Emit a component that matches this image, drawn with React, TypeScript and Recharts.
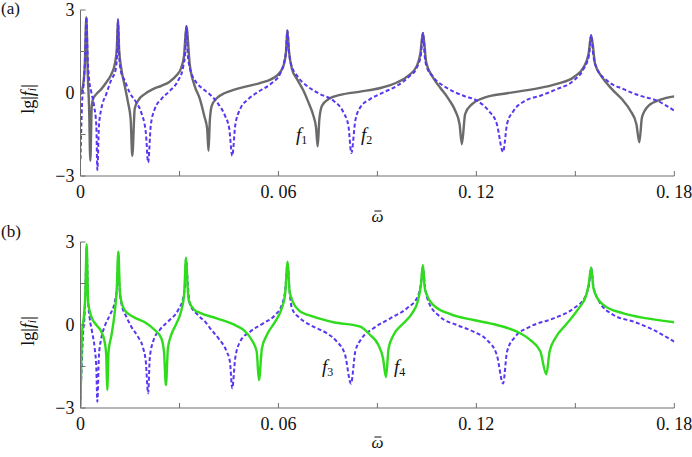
import { LineChart, Line, XAxis, YAxis } from 'recharts';

// omega-bar axis
const omegaTicks = [0, 0.03, 0.06, 0.09, 0.12, 0.15, 0.18];
const omegaTickLabels = ['0', '', '0. 06', '', '0. 12', '', '0. 18'];
// lg|f| axis
const lgTicks = [-3, -1.5, 0, 1.5, 3];
const lgTickLabels = ['\u22123', '', '0', '', '3'];

// f1 (grey, panel a)
const f1Omega = [0, 0.0008, 0.0013, 0.00177, 0.0022, 0.0026, 0.00298, 0.0034, 0.0038, 0.0048, 0.0063, 0.0078, 0.0094, 0.0104, 0.011, 0.01137, 0.0117, 0.01238, 0.0134, 0.0144, 0.0152, 0.0157, 0.01643, 0.01744, 0.01946, 0.02199, 0.0245, 0.02705, 0.02906, 0.03058, 0.03139, 0.0321, 0.0331, 0.0346, 0.0362, 0.0375, 0.0384, 0.0388, 0.0392, 0.0398, 0.0413, 0.0438, 0.0464, 0.0504, 0.0544, 0.058, 0.0605, 0.0617, 0.0623, 0.0627, 0.0632, 0.0641, 0.0656, 0.0676, 0.0691, 0.0706, 0.0714, 0.0719, 0.0724, 0.0732, 0.0752, 0.0787, 0.0848, 0.0909, 0.0959, 0.0994, 0.102, 0.103, 0.1038, 0.1048, 0.1065, 0.109, 0.1116, 0.1136, 0.1149, 0.1156, 0.1166, 0.1187, 0.1222, 0.1293, 0.1373, 0.1444, 0.1495, 0.1525, 0.154, 0.1548, 0.156, 0.1581, 0.1611, 0.1641, 0.1667, 0.1685, 0.1694, 0.1702, 0.1722, 0.1758, 0.18];
const f1Lg = [-0.05, 0.3, 1.0, 2.74, 0.7, -0.5, -2.45, -0.5, -0.22, -0.04, 0.14, 0.38, 0.69, 1.05, 1.6, 2.66, 1.6, 0.87, 0.26, -0.34, -0.94, -2.27, -0.58, -0.28, -0.04, 0.14, 0.26, 0.41, 0.63, 0.93, 1.35, 2.41, 1.05, 0.26, -0.22, -0.82, -1.3, -2.09, -1.0, -0.46, -0.19, 0, 0.11, 0.24, 0.36, 0.51, 0.75, 1.05, 1.5, 2.26, 1.5, 0.87, 0.51, 0.08, -0.34, -0.82, -1.25, -1.93, -0.95, -0.46, -0.22, -0.07, 0.05, 0.18, 0.38, 0.63, 0.99, 1.41, 2.17, 1.11, 0.63, 0.2, -0.22, -0.64, -1.12, -1.85, -0.76, -0.4, -0.18, -0.01, 0.14, 0.33, 0.57, 0.93, 1.41, 2.09, 1.05, 0.57, 0.14, -0.22, -0.64, -1.12, -1.78, -0.88, -0.46, -0.24, -0.12];

// f2 (blue dashed, panel a)
const f2Omega = [0, 0.00045, 0.00106, 0.0014, 0.00177, 0.0022, 0.0026, 0.0033, 0.0041, 0.0048, 0.0051, 0.0056, 0.0063, 0.0078, 0.0094, 0.0106, 0.0111, 0.01137, 0.0117, 0.0122, 0.0134, 0.0149, 0.0169, 0.0184, 0.0198, 0.0205, 0.0213, 0.0225, 0.0245, 0.0271, 0.0296, 0.0311, 0.0317, 0.0321, 0.0325, 0.0331, 0.0351, 0.0368, 0.0393, 0.0418, 0.0438, 0.0451, 0.046, 0.0469, 0.0484, 0.0509, 0.0544, 0.058, 0.0605, 0.0617, 0.0623, 0.0627, 0.0632, 0.0638, 0.0656, 0.0686, 0.0726, 0.0767, 0.0797, 0.0812, 0.0821, 0.0833, 0.0848, 0.0878, 0.0918, 0.0959, 0.0994, 0.102, 0.1032, 0.1038, 0.1043, 0.1048, 0.107, 0.1111, 0.1161, 0.1202, 0.1237, 0.1262, 0.1281, 0.1293, 0.1313, 0.1348, 0.1394, 0.1444, 0.1495, 0.1525, 0.1542, 0.1548, 0.1554, 0.1566, 0.1596, 0.1646, 0.1697, 0.1748, 0.18];
const f2Lg = [-2.39, -0.46, 0.5, 1.3, 2.74, 1.2, 0.5, 0.02, -0.46, -1.18, -2.78, -1.18, -0.58, -0.04, 0.5, 0.81, 1.4, 2.66, 1.4, 0.81, 0.45, 0.02, -0.34, -0.7, -1.43, -2.51, -1.18, -0.58, -0.22, 0.08, 0.45, 0.93, 1.4, 2.41, 1.4, 0.93, 0.38, 0.18, -0.06, -0.4, -0.82, -1.3, -2.27, -1.18, -0.58, -0.22, 0.08, 0.36, 0.69, 1.11, 1.5, 2.26, 1.5, 1.05, 0.63, 0.26, -0.04, -0.28, -0.7, -1.18, -2.17, -1.0, -0.52, -0.22, 0.02, 0.26, 0.57, 0.93, 1.4, 2.17, 1.4, 0.99, 0.57, 0.18, -0.1, -0.28, -0.64, -1.12, -2.13, -1.12, -0.64, -0.28, -0.1, 0.14, 0.45, 0.87, 1.4, 2.09, 1.4, 0.87, 0.45, 0.14, -0.1, -0.28, -0.64];

// f3 (blue dashed, panel b)
const f3Omega = [0, 0.00076, 0.00127, 0.0015, 0.00187, 0.0023, 0.0028, 0.0035, 0.0043, 0.0048, 0.0051, 0.0056, 0.0063, 0.0073, 0.0089, 0.0104, 0.0111, 0.01147, 0.0118, 0.0124, 0.0139, 0.0154, 0.0174, 0.019, 0.0198, 0.0205, 0.021, 0.022, 0.024, 0.0265, 0.0296, 0.0311, 0.0317, 0.032, 0.0325, 0.0331, 0.0356, 0.0382, 0.0393, 0.0418, 0.0443, 0.0453, 0.046, 0.0469, 0.0484, 0.0514, 0.0554, 0.059, 0.061, 0.062, 0.0628, 0.0634, 0.0641, 0.0666, 0.0706, 0.0747, 0.0777, 0.0802, 0.082, 0.0833, 0.0853, 0.0888, 0.0939, 0.0989, 0.1022, 0.1032, 0.1038, 0.1044, 0.1055, 0.109, 0.1141, 0.1191, 0.1232, 0.1262, 0.1281, 0.1293, 0.1318, 0.1363, 0.1434, 0.1495, 0.153, 0.1542, 0.1548, 0.1555, 0.157, 0.1616, 0.1677, 0.1737, 0.18];
const f3Lg = [-2.7, -0.36, 0.48, 1.3, 2.8, 0.9, 0.24, -0.24, -0.84, -1.57, -2.77, -1.08, -0.48, -0.06, 0.36, 0.84, 1.4, 2.6, 1.4, 0.78, 0.3, -0.06, -0.42, -0.84, -1.33, -2.47, -1.2, -0.6, -0.18, 0.12, 0.54, 0.96, 1.5, 2.4, 1.5, 0.78, 0.36, 0.06, -0.12, -0.48, -0.96, -1.33, -2.29, -1.2, -0.6, -0.24, 0.06, 0.36, 0.72, 1.2, 2.2, 1.2, 0.6, 0.24, -0.06, -0.3, -0.6, -1.08, -2.12, -0.96, -0.48, -0.12, 0.24, 0.6, 1.02, 1.5, 2.1, 1.4, 0.84, 0.3, 0, -0.24, -0.54, -1.08, -2.11, -0.96, -0.42, -0.06, 0.24, 0.6, 1.02, 1.5, 2.05, 1.4, 0.9, 0.36, 0.12, -0.18, -0.6];

// f4 (green, panel b)
const f4Omega = [0, 0.00045, 0.00106, 0.00146, 0.00187, 0.0023, 0.0033, 0.0048, 0.0063, 0.0073, 0.0078, 0.0081, 0.0085, 0.0094, 0.0104, 0.011, 0.01147, 0.0119, 0.0122, 0.0134, 0.0159, 0.0195, 0.0225, 0.0245, 0.0253, 0.0259, 0.0265, 0.0275, 0.0291, 0.0306, 0.0314, 0.032, 0.0325, 0.0328, 0.0346, 0.0362, 0.0413, 0.0464, 0.0494, 0.0519, 0.0534, 0.0541, 0.055, 0.0565, 0.059, 0.061, 0.062, 0.0628, 0.0633, 0.0638, 0.0661, 0.0706, 0.0767, 0.0848, 0.0878, 0.0903, 0.0917, 0.0926, 0.0934, 0.0949, 0.0979, 0.1005, 0.1022, 0.1032, 0.1038, 0.1043, 0.1048, 0.107, 0.1121, 0.1191, 0.1262, 0.1323, 0.1363, 0.1394, 0.1412, 0.1422, 0.1439, 0.1475, 0.151, 0.1533, 0.1541, 0.1548, 0.1554, 0.156, 0.1586, 0.1646, 0.1717, 0.18];
const f4Lg = [-2.95, -0.36, 0.36, 1.08, 2.92, 0.84, 0.3, 0, -0.24, -0.6, -1.08, -2.35, -0.96, -0.36, 0.48, 1.33, 2.65, 1.3, 0.96, 0.54, 0.3, 0.1, -0.18, -0.48, -0.96, -2.17, -0.84, -0.36, 0.06, 0.54, 1.08, 2.43, 1.3, 0.9, 0.54, 0.44, 0.24, 0.02, -0.18, -0.54, -0.96, -1.99, -0.84, -0.36, 0.12, 0.6, 1.08, 2.29, 1.3, 1.02, 0.54, 0.3, 0.1, -0.06, -0.36, -0.72, -1.2, -1.88, -0.84, -0.36, 0.06, 0.42, 0.84, 1.45, 2.17, 1.4, 1.14, 0.72, 0.39, 0.18, 0, -0.24, -0.54, -0.96, -1.78, -0.96, -0.48, 0.06, 0.6, 1.08, 1.51, 2.08, 1.4, 1.14, 0.72, 0.42, 0.24, 0.1];

const toPoints = (xs: number[], ys: number[]) => xs.map((w, i) => ({ w, v: ys[i] }));

const FONT = 'Liberation Serif';
const AXIS = '#6e6e6e';
const W = 692;
const H = 226;
const MARGIN = { top: 10, right: 17.7, bottom: 0, left: 0 };

const XTick = (props: any) => {
  const { x, y, payload } = props;
  const label = omegaTickLabels[omegaTicks.indexOf(payload.value)];
  if (!label) return <g />;
  return (
    <text x={x} y={y} dy="0.71em" textAnchor="middle" fontSize={18} style={{ fontFamily: FONT }} fill="#111">
      {label}
    </text>
  );
};

const YTick = (props: any) => {
  const { x, y, payload } = props;
  const label = lgTickLabels[lgTicks.indexOf(payload.value)];
  if (!label) return <g />;
  return (
    <text x={x} y={y} dy="0.35em" textAnchor="end" fontSize={18} style={{ fontFamily: FONT }} fill="#111">
      {label}
    </text>
  );
};

const NoTick = () => <g />;

const OmegaLabel = ({ viewBox, gap }: any) => {
  const cx = viewBox.x + viewBox.width / 2;
  const base = viewBox.y + gap;
  return (
    <g>
      <text x={cx} y={base} textAnchor="middle" fontSize={17} fontStyle="italic" style={{ fontFamily: FONT }} fill="#111">
        ω
      </text>
      <line x1={cx - 3} x2={cx + 4} y1={base - 11} y2={base - 11} stroke="#111" strokeWidth={1} />
    </g>
  );
};

const LgLabel = ({ viewBox }: any) => {
  const cx = 28;
  const cy = viewBox.y + viewBox.height / 2 + 6;
  return (
    <text x={cx} y={cy} transform={`rotate(-90 ${cx} ${cy})`} textAnchor="middle" dominantBaseline="central" fontSize={18} style={{ fontFamily: FONT }} fill="#111">
      lg|<tspan fontStyle="italic">f</tspan>
      <tspan fontStyle="italic" fontSize={12} dy={4}>i</tspan>
      <tspan dy={-4}>|</tspan>
    </text>
  );
};

function Panel({ children, labelGap }: { children: React.ReactNode; labelGap: number }) {
  return (
    <LineChart width={W} height={H} margin={MARGIN}>
      <XAxis dataKey="w" type="number" domain={[0, 0.18]} ticks={omegaTicks} allowDataOverflow
        height={50} tickSize={-5} tickMargin={14} tick={XTick} stroke={AXIS} tickLine={{ stroke: AXIS }}
        label={<OmegaLabel gap={labelGap} />} />
      <XAxis xAxisId="top" orientation="top" dataKey="w" type="number" domain={[0, 0.18]} ticks={omegaTicks}
        height={0} tickSize={-5} tick={NoTick} stroke={AXIS} tickLine={{ stroke: AXIS }} />
      <YAxis type="number" domain={[-3, 3]} ticks={lgTicks} allowDataOverflow width={80.5}
        tickSize={-5} tickMargin={11} tick={YTick} stroke={AXIS} tickLine={{ stroke: AXIS }}
        label={<LgLabel />} />
      <YAxis yAxisId="right" orientation="right" type="number" domain={[-3, 3]} ticks={lgTicks}
        width={0} tickSize={-5} tick={NoTick} stroke={AXIS} tickLine={{ stroke: AXIS }} />
      {children}
    </LineChart>
  );
}

const Sub = ({ x, y, n }: { x: number; y: number; n: string }) => (
  <text x={x} y={y} fontSize={19} style={{ fontFamily: FONT }} fill="#111">
    <tspan fontStyle="italic">f</tspan>
    <tspan fontSize={12} dy={3}>{n}</tspan>
  </text>
);

export default function App() {
  return (
    <div style={{ position: 'absolute', left: 0, top: 0, width: 692, height: 457, background: '#fff' }}>
      <div style={{ position: 'absolute', left: 0, top: 0 }}>
        <Panel labelGap={46}>
          <Line data={toPoints(f1Omega, f1Lg)} dataKey="v" type="monotone" stroke="#6b6b6b" strokeWidth={2.4}
            dot={false} isAnimationActive={false} />
          <Line data={toPoints(f2Omega, f2Lg)} dataKey="v" type="monotone" stroke="#5a35f2" strokeWidth={2}
            strokeDasharray="4 2.5" dot={false} isAnimationActive={false} />
        </Panel>
      </div>
      <div style={{ position: 'absolute', left: 0, top: 231.7 }}>
        <Panel labelGap={40}>
          <Line data={toPoints(f3Omega, f3Lg)} dataKey="v" type="monotone" stroke="#5a35f2" strokeWidth={2}
            strokeDasharray="4 2.5" dot={false} isAnimationActive={false} />
          <Line data={toPoints(f4Omega, f4Lg)} dataKey="v" type="monotone" stroke="#2fdc1c" strokeWidth={2.4}
            dot={false} isAnimationActive={false} />
        </Panel>
      </div>
      <svg width={692} height={457} style={{ position: 'absolute', left: 0, top: 0, pointerEvents: 'none' }}>
        <text x={1} y={14} fontSize={17} style={{ fontFamily: FONT }} fill="#111">(a)</text>
        <text x={1} y={237} fontSize={17} style={{ fontFamily: FONT }} fill="#111">(b)</text>
        <Sub x={296} y={141} n="1" />
        <Sub x={361} y={141} n="2" />
        <Sub x={322} y={373} n="3" />
        <Sub x={394} y={373} n="4" />
      </svg>
    </div>
  );
}
